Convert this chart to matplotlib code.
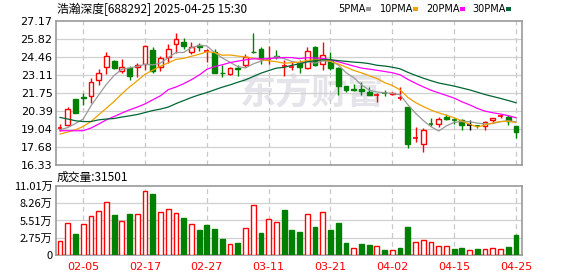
import numpy as np
import pandas as pd
import matplotlib
matplotlib.use("Agg")
import matplotlib.pyplot as plt
from matplotlib.patches import Rectangle

plt.rcParams['font.family'] = ['Noto Sans CJK SC', 'DejaVu Sans']

dates = ["01-23", "01-24", "01-27",
         "02-05", "02-06", "02-07", "02-10", "02-11", "02-12", "02-13", "02-14", "02-17", "02-18",
         "02-19", "02-20", "02-21", "02-24", "02-25", "02-26", "02-27", "02-28",
         "03-03", "03-04", "03-05", "03-06", "03-07", "03-10", "03-11", "03-12", "03-13", "03-14",
         "03-17", "03-18", "03-19", "03-20", "03-21", "03-24", "03-25", "03-26", "03-27", "03-28",
         "03-31", "04-01", "04-02", "04-03", "04-07", "04-08", "04-09", "04-10", "04-11", "04-14",
         "04-15", "04-16", "04-17", "04-18", "04-21", "04-22", "04-23", "04-24", "04-25"]

opens = [19.13, 19.33, 21.31, 21.45, 21.51, 22.71, 23.69, 24.17, 23.44, 23.64,
         23.71, 23.92, 24.99, 23.69, 24.44, 25.42, 25.59, 24.82, 25.37, 24.93,
         24.82, 23.28, 23.17, 23.60, 23.84, 24.84, 25.07, 24.30, 24.53, 23.74,
         23.72, 23.99, 23.62, 25.24, 23.94, 24.19, 23.62, 22.24, 22.03, 22.06,
         21.84, 21.57, 21.76, 21.68, 21.40, 20.69, 18.36, 17.91, 19.40, 19.38,
         19.98, 19.75, 19.73, 19.31, 19.25, 19.23, 19.71, 20.01, 19.96, 19.28]
highs = [19.41, 20.69, 21.31, 21.74, 22.89, 23.56, 24.84, 24.24, 24.32, 23.79,
         23.99, 25.37, 25.19, 24.54, 25.44, 26.27, 25.89, 25.59, 25.54, 25.04,
         25.04, 23.86, 23.74, 23.86, 24.69, 26.24, 25.24, 25.29, 24.99, 24.20,
         24.11, 24.24, 25.24, 25.32, 25.62, 24.87, 23.74, 22.29, 22.44, 22.61,
         22.19, 21.74, 21.94, 21.84, 22.19, 20.69, 19.18, 19.11, 19.86, 19.94,
         20.16, 19.86, 19.81, 19.68, 19.36, 19.61, 19.88, 20.13, 20.06, 19.28]
lows = [18.91, 19.28, 20.28, 20.86, 21.03, 22.36, 23.19, 23.59, 23.24, 22.74,
        22.96, 23.49, 23.24, 23.44, 23.99, 24.74, 25.04, 24.67, 24.94, 24.12,
        23.24, 22.99, 23.09, 23.04, 23.74, 24.74, 23.94, 23.94, 24.29, 23.00,
        23.49, 23.29, 23.54, 23.81, 23.49, 23.49, 21.61, 21.86, 21.91, 21.59,
        21.63, 21.11, 21.54, 21.59, 21.24, 17.61, 18.03, 17.31, 19.28, 19.18,
        19.73, 19.41, 18.98, 18.98, 19.08, 18.93, 19.53, 19.90, 19.31, 18.40]
closes = [19.15, 20.53, 20.28, 21.40, 22.56, 23.24, 24.52, 23.66, 23.69, 23.06,
          23.86, 25.29, 23.44, 24.37, 25.09, 25.79, 25.32, 25.24, 25.19, 24.95,
          23.29, 23.25, 23.62, 23.56, 24.47, 24.80, 24.32, 24.32, 24.49, 23.76,
          23.74, 23.70, 24.92, 23.86, 24.62, 23.62, 22.31, 22.00, 22.00, 21.91,
          21.63, 21.59, 21.74, 21.72, 21.42, 17.91, 18.38, 18.98, 19.38, 19.79,
          19.83, 19.73, 19.31, 19.31, 19.23, 19.53, 19.86, 20.03, 19.66, 18.78]

# volume in 万 shares, and whether the bar is drawn red (up)
volume = [2.31, 5.05, 3.32, 4.88, 6.17, 6.98, 8.38, 6.39, 5.37, 6.55,
          6.50, 10.20, 9.77, 6.82, 7.30, 6.66, 5.85, 4.93, 3.92, 4.77,
          4.13, 2.52, 1.82, 1.87, 4.24, 7.95, 3.48, 5.69, 5.32, 7.19,
          3.92, 3.60, 6.50, 4.40, 6.82, 3.92, 5.05, 1.98, 1.13, 1.82,
          1.66, 1.45, 0.85, 0.81, 1.18, 4.40, 2.14, 2.42, 2.10, 1.45,
          1.45, 1.02, 1.18, 0.81, 0.97, 0.97, 1.13, 0.97, 1.34, 3.15]
vol_up = [1, 1, 0, 1, 1, 1, 1, 0, 1, 0, 1, 1, 0, 1, 1, 1, 0, 1, 0, 0,
          0, 0, 1, 0, 1, 1, 0, 1, 1, 0, 0, 0, 1, 0, 1, 0, 0, 0, 1, 0,
          0, 1, 0, 1, 0, 0, 1, 1, 1, 1, 1, 0, 0, 1, 0, 1, 1, 1, 0, 0]
last_volume = "31501"

# moving averages at the start of the window (need history before it)
ma5_head = [18.98, 19.15, 19.45, 19.79]
ma10_head = [18.66, 18.81, 18.98, 19.23, 19.60, 20.11, 20.61, 21.11, 21.69]
ma20_head = [18.91, 18.91, 18.91, 18.91, 19.11, 19.41, 19.73, 19.98, 20.24, 20.48,
             20.69, 20.93, 21.24, 21.54, 22.00, 22.20, 22.45, 22.75, 23.10]
ma30_head = [19.91, 19.79, 19.66, 19.60, 19.60, 19.73, 19.79, 19.83, 19.94, 20.03,
             20.13, 20.28, 20.43, 20.54, 20.69, 20.95, 21.18, 21.41, 21.61, 21.78,
             21.99, 22.19, 22.36, 22.56, 22.74, 22.99, 23.24, 23.44, 23.62]

price_ticks = [16.33, 17.68, 19.04, 20.39, 21.75, 23.11, 24.46, 25.82, 27.17]
vol_ticks = [0, 2.75, 5.51, 8.26, 11.01]
date_ticks = ["02-05", "02-17", "02-27", "03-11", "03-21", "04-02", "04-15", "04-25"]

RED = "#ff0000"
GREEN = "#008000"
ma_styles = [("5PMA", 5, ma5_head, "#999999"), ("10PMA", 10, ma10_head, "#f0a000"),
             ("20PMA", 20, ma20_head, "#ff00ff"), ("30PMA", 30, ma30_head, "#006633")]

x = np.arange(len(closes))
close_s = pd.Series(closes)

fig = plt.figure(figsize=(5.78, 2.76), dpi=100)
ax = fig.add_axes([56 / 578, 1 - 165 / 276, 466 / 578, 144 / 276])
axv = fig.add_axes([56 / 578, 1 - 255 / 276, 466 / 578, 69 / 276])

# candles
w = 0.62
for i in x:
    o, h, l, c = opens[i], highs[i], lows[i], closes[i]
    col = RED if c > o else (GREEN if c < o else "black")
    ax.vlines(i, l, h, color=col, lw=1, zorder=3)
    if abs(c - o) < 0.03:
        ax.hlines((o + c) / 2, i - w / 2, i + w / 2, color=col, lw=1.2, zorder=4)
    else:
        fc = "white" if c > o else col
        ax.add_patch(Rectangle((i - w / 2, min(o, c)), w, abs(c - o), facecolor=fc,
                               edgecolor=col, lw=1, zorder=4))

# moving averages
for name, n, head, col in ma_styles:
    ma = close_s.rolling(n).mean().to_numpy()
    ma[:len(head)] = head
    ax.plot(x, ma, color=col, lw=0.9, zorder=5)

# volume bars
for i in x:
    if vol_up[i]:
        axv.bar(i, volume[i], width=w, facecolor="white", edgecolor=RED, lw=1, zorder=3)
    else:
        axv.bar(i, volume[i], width=w, facecolor=GREEN, edgecolor=GREEN, lw=1, zorder=3)

tick_pos = [dates.index(d) for d in date_ticks]
for a in (ax, axv):
    a.set_xlim(-0.52, 59.78)
    for t in tick_pos:
        a.axvline(t, color="#c8c8c8", lw=0.9, ls=(0, (4, 3)), zorder=1)
    a.tick_params(length=0, labelsize=8, pad=2.5)
    for sp in a.spines.values():
        sp.set_color("#999999")
        sp.set_linewidth(1.2)
    a.set_facecolor("white")

ax.set_ylim(16.33, 27.17)
ax.set_yticks(price_ticks)
ax.set_yticklabels([f"{v:.2f}" for v in price_ticks], family="DejaVu Sans")
for v in price_ticks[1:-1]:
    ax.axhline(v, color="#d0d0d0", lw=0.9, zorder=1)
ax.set_xticks([])

axv.set_ylim(0, 11.01)
axv.set_yticks(vol_ticks)
axv.set_yticklabels(["0"] + [f"{v:.2f}万" for v in vol_ticks[1:]])
for v in vol_ticks[1:-1]:
    axv.axhline(v, color="#d0d0d0", lw=0.9, zorder=1)
axv.set_xticks(tick_pos)
axv.set_xticklabels(date_ticks, color=RED, family="DejaVu Sans")
axv.tick_params(axis="x", pad=5)

# watermark
ax.text(0.55, 0.5, "东方财富", transform=ax.transAxes, fontsize=26, weight="bold",
        color="#e4e4ea", ha="center", va="center", zorder=0)

fig.text(57 / 578, 1 - 9 / 276, "浩瀚深度[688292] 2025-04-25 15:30", fontsize=8.5,
         ha="left", va="center")
fig.text(57 / 578, 1 - 177 / 276, "成交量:" + last_volume,
         fontsize=8.5, ha="left", va="center")

leg_x = [338, 380, 426, 472]
mark_x = [366, 413, 460, 506]
for (name, n, head, col), tx, mx in zip(ma_styles, leg_x, mark_x):
    fig.text(tx / 578, 1 - 9 / 276, name, fontsize=7, ha="left", va="center",
             family="DejaVu Sans")
    fig.patches.append(Rectangle((mx / 578, 1 - 10.5 / 276), 5 / 578, 3 / 276,
                                 transform=fig.transFigure, facecolor=col,
                                 edgecolor="none", figure=fig))

fig.savefig("out.png", dpi=100)
